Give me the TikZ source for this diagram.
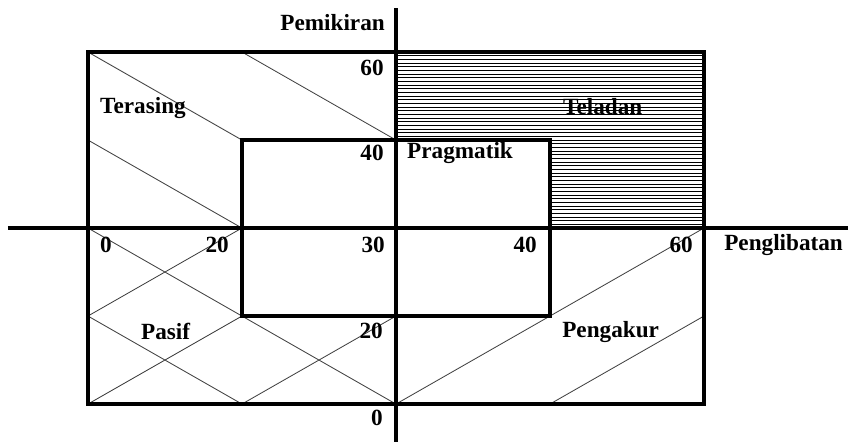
\documentclass[tikz,border=0pt]{standalone}
\usepackage{fontspec}
\setmainfont{Liberation Serif}
\usetikzlibrary{positioning}

\begin{document}
\begin{tikzpicture}[x=3.85cm, y=2.2cm,
    font=\fontsize{16.5}{20}\selectfont\bfseries,
    tebal/.style={line width=2.8pt},
    arsir/.style={line width=0.6pt, black!75},
    garis/.style={line width=0.5pt, black},
    lbl/.style={inner sep=0pt}]
  \useasboundingbox (-2.571,-2.432) rectangle (2.935,2.591);
  % titik hujung paksi
  \coordinate (kiri) at (-2.52,0);
  \coordinate (kanan) at (2.935,0);
  \coordinate (atas) at (0,2.5);
  \coordinate (bawah) at (0,-2.432);
  % arsiran Terasing
  \draw[arsir] (-2,2) -- (-1,1) (-1,2) -- (0,1) (-2,1) -- (-1,0);
  % arsiran Pasif
  \draw[arsir] (-2,0) -- (-1,-1) -- (0,-2) (-2,-1) -- (-1,-2)
               (-2,-1) -- (-1,0) (-2,-2) -- (-1,-1) (-1,-2) -- (0,-1);
  % arsiran Pengakur
  \draw[arsir] (0,-2) -- (2,0) (1,-2) -- (2,-1);
  % arsiran Teladan
  \foreach \i in {1,...,24}
    \draw[garis] (1,\i/24) -- (2,\i/24);
  \foreach \i in {25,...,47}
    \draw[garis] (0,\i/24) -- (2,\i/24);
  % kotak
  \draw[tebal] (-2,-2) rectangle (2,2);
  \draw[tebal] (-1,-1) rectangle (1,1);
  \draw[tebal] (kiri) -- (kanan);
  \draw[tebal] (atas) -- (bawah);
  % label
  \node[lbl, anchor=east] (pemikiran) at (-0.071,2.34) {Pemikiran};
  \node[lbl, anchor=east] (y60) at (-0.078,1.82) {60};
  \node[lbl, anchor=east] (y40) at (-0.078,0.85) {40};
  \node[lbl, anchor=west] (terasing) at (-1.922,1.364) {Terasing};
  \node[lbl, anchor=west] (teladan) at (1.084,1.375) {Teladan};
  \node[lbl, anchor=west] (pragmatik) at (0.071,0.85) {Pragmatik};
  \node[lbl, anchor=west] (x0) at (-1.922,-0.193) {0};
  \node[lbl, anchor=east] (x20) at (-1.084,-0.193) {20};
  \node[lbl, anchor=east] (x30) at (-0.071,-0.193) {30};
  \node[lbl, anchor=east] (x40) at (0.916,-0.193) {40};
  \node[lbl, anchor=east] (x60) at (1.929,-0.193) {60};
  \node[lbl, anchor=west] (penglibatan) at (2.13,-0.193) {Penglibatan};
  \node[lbl, anchor=west] (pasif) at (-1.656,-1.17) {Pasif};
  \node[lbl, anchor=east] (y20) at (-0.084,-1.17) {20};
  \node[lbl, anchor=west] (pengakur) at (1.078,-1.18) {Pengakur};
  \node[lbl, anchor=east] (y0) at (-0.084,-2.16) {0};
\end{tikzpicture}
\end{document}
